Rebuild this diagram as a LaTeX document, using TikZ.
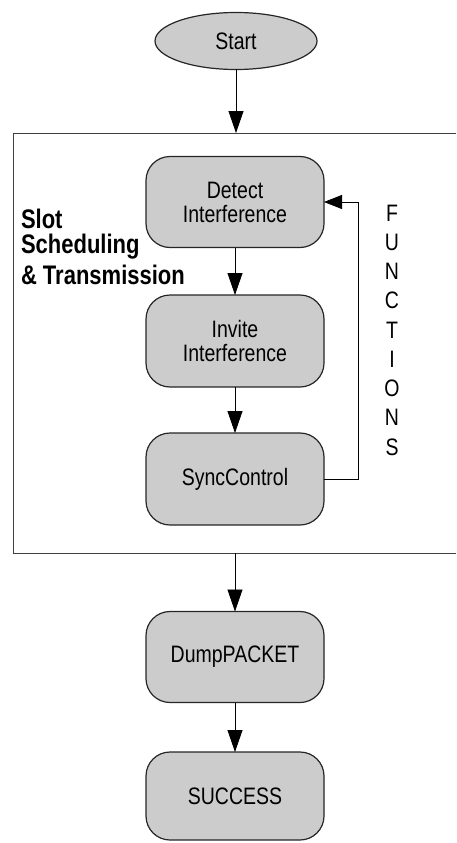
\documentclass[tikz,border=0pt]{standalone}
\usepackage{fontspec}
\usepackage{graphicx}
\setmainfont{Liberation Sans}
\usetikzlibrary{arrows.meta,shapes.geometric}
\newcommand{\vs}[1]{\scalebox{1}[1.22]{#1}}
\begin{document}
\begin{tikzpicture}[x=1pt,y=-1pt,
  every node/.style={inner sep=0pt,outer sep=0pt},
  proc/.style={draw=black!85,line width=1.2pt,fill=black!20,rounded corners=24pt,
    minimum width=178pt,align=center,font=\fontsize{19.5}{24}\selectfont},
  conn/.style={line width=0.8pt,-{Triangle[length=22pt,width=15pt]}},
  lbl/.style={font=\fontsize{19.5}{24}\selectfont}
]
\useasboundingbox (0,0) rectangle (456,843);
% outer frame (right side lies beyond the picture edge)
\node[minimum width=443pt,minimum height=420pt] (frame) at (234.5,343) {};
\draw[black!75,line width=0.9pt] (frame.north east) -- (frame.north west) -- (frame.south west) -- (frame.south east);
\node[ellipse,draw=black!85,line width=1.2pt,fill=black!20,minimum width=162pt,minimum height=57pt,
  font=\fontsize{19.5}{24}\selectfont] (start) at (236,41) {\vs{Start}};
\node[proc,minimum height=91pt] (detect) at (235,202) {\vs{Detect}\\[0pt]\vs{Interference}};
\node[proc,minimum height=92pt] (invite) at (235,341) {\vs{Invite}\\[0pt]\vs{Interference}};
\node[proc,minimum height=92pt] (sync) at (235,479) {\vs{SyncControl}};
\node[proc,minimum height=91pt] (dump) at (235,657) {\vs{DumpPACKET}};
\node[proc,minimum height=88pt] (succ) at (235,796) {\vs{SUCCESS}};
% label
\node[anchor=west,font=\fontsize{22}{28}\selectfont\bfseries] (l1) at (21,219) {\vs{Slot}};
\node[anchor=west,font=\fontsize{22}{28}\selectfont\bfseries] (l2) at (21,247) {\vs{Scheduling}};
\node[anchor=west,font=\fontsize{22}{28}\selectfont\bfseries] (l3) at (21,275) {\vs{\& Transmission}};
% FUNCTIONS
\foreach \ch [count=\i from 0] in {F,U,N,C,T,I,O,N,S}{
  \node[lbl] (f\i) at (392,213+29.25*\i) {\vs{\ch}};
}
% connectors
\coordinate (fb1) at (358,479);
\coordinate (fb2) at (358,202);
\draw[conn] (start.south) -- (start.south |- frame.north);
\draw[conn] (detect) -- (invite);
\draw[conn] (invite) -- (sync);
\draw[conn] (dump.north |- frame.south) -- (dump.north);
\draw[conn] (dump) -- (succ);
\draw[line width=0.8pt,-{Triangle[length=18pt,width=14pt]}] (sync.east) -- (fb1) -- (fb2) -- (detect.east);
\end{tikzpicture}
\end{document}
